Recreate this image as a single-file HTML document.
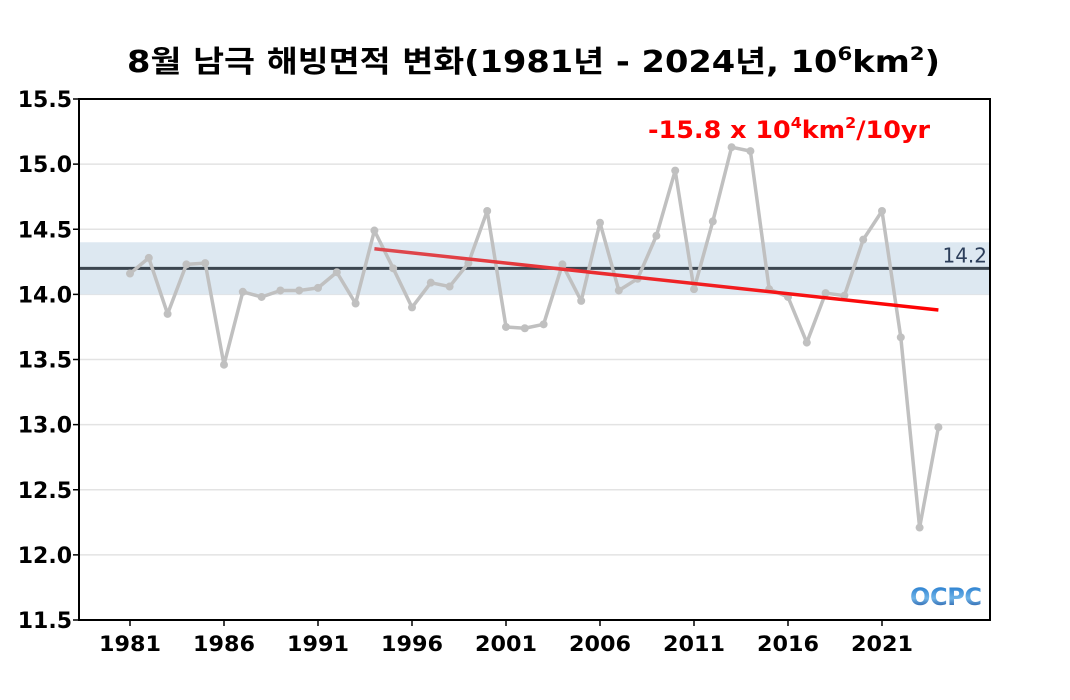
<!DOCTYPE html>
<html><head><meta charset="utf-8"><style>
html,body{margin:0;padding:0;background:#fff;}
svg{display:block;font-family:"DejaVu Sans","Noto Sans CJK KR",sans-serif;}
</style></head><body>
<svg id="chart" width="1070" height="700">
<text x="127" y="72" font-size="30" font-weight="bold" fill="#000" textLength="813" lengthAdjust="spacingAndGlyphs">8월 남극 해빙면적 변화(1981년 - 2024년, 10<tspan dy="-12" font-size="19">6</tspan><tspan dy="12">km</tspan><tspan dy="-12" font-size="19">2</tspan><tspan dy="12">)</tspan></text>
<g id="grid"></g>
<g id="band"></g>
<g id="series"></g>
<g id="axes"></g>
<text x="648" y="138" font-size="24" font-weight="bold" fill="#ff0000" textLength="282" lengthAdjust="spacingAndGlyphs">-15.8 x 10<tspan dy="-10" font-size="15">4</tspan><tspan dy="10">km</tspan><tspan dy="-10" font-size="15">2</tspan><tspan dy="10">/10yr</tspan></text>
<g>
<defs><linearGradient id="lg" x1="0" y1="0" x2="0" y2="1"><stop offset="0" stop-color="#1670c8"/><stop offset="0.55" stop-color="#6fb4e8"/><stop offset="1" stop-color="#0a3d8f"/></linearGradient></defs>
<text x="946" y="605" text-anchor="middle" font-size="24" font-weight="bold" fill="url(#lg)" textLength="72">OCPC</text>
</g>
</svg>
<script>
const years=[1981,1982,1983,1984,1985,1986,1987,1988,1989,1990,1991,1992,1993,1994,1995,1996,1997,1998,1999,2000,2001,2002,2003,2004,2005,2006,2007,2008,2009,2010,2011,2012,2013,2014,2015,2016,2017,2018,2019,2020,2021,2022,2023,2024];
const extent=[14.16,14.28,13.85,14.23,14.24,13.46,14.02,13.98,14.03,14.03,14.05,14.17,13.93,14.49,14.2,13.90,14.09,14.06,14.24,14.64,13.75,13.74,13.77,14.23,13.95,14.55,14.03,14.12,14.45,14.95,14.04,14.56,15.13,15.10,14.04,13.98,13.63,14.01,13.99,14.42,14.64,13.67,12.21,12.98];
const yTicks=[11.5,12.0,12.5,13.0,13.5,14.0,14.5,15.0,15.5];
const xTicks=[1981,1986,1991,1996,2001,2006,2011,2016,2021];
const meanValue=[14.2];
const bandRange=[14.0,14.4];
const trendYears=[1994,2024];
const trendValues=[14.35,13.88];

const L=79,R=990,T=99,B=620;
const xs=y=>130+(y-1981)*18.8;
const ys=v=>B-(v-11.5)/4*(B-T);
const NS='http://www.w3.org/2000/svg';
function mk(tag,attrs,parent){const e=document.createElementNS(NS,tag);for(const k in attrs)e.setAttribute(k,attrs[k]);parent.appendChild(e);return e;}
const grid=document.getElementById('grid'),band=document.getElementById('band'),series=document.getElementById('series'),axes=document.getElementById('axes');
yTicks.forEach(v=>{
 const g=mk('line',{x1:L,x2:R,y1:ys(v),y2:ys(v),stroke:'#e3e3e3','stroke-width':1.5},grid);
 
 
 const t=mk('line',{x1:L-6,x2:L,y1:ys(v),y2:ys(v),stroke:'#000','stroke-width':1.5},axes);
 
 
 const tx=mk('text',{x:L-7,y:ys(v)+8,'text-anchor':'end','font-size':22,'font-weight':'bold'},axes);
 tx.textContent=v.toFixed(1);
 
 
});
xTicks.forEach(y=>{
 const t=mk('line',{x1:xs(y),x2:xs(y),y1:B,y2:B+6,stroke:'#000','stroke-width':1.5},axes);
 
 
 const tx=mk('text',{x:xs(y),y:B+31,'text-anchor':'middle','font-size':21,'font-weight':'bold',textLength:62,lengthAdjust:'spacingAndGlyphs'},axes);
 tx.textContent=y;
 
 
});
const bd=mk('rect',{x:L,y:ys(bandRange[1]),width:R-L,height:ys(bandRange[0])-ys(bandRange[1]),fill:'#dde8f1'},band);


const ml=mk('line',{x1:L,x2:R,y1:ys(meanValue[0]),y2:ys(meanValue[0]),stroke:'#3c4650','stroke-width':3},band);


const mt=mk('text',{x:R-3,y:ys(meanValue[0])-6,'text-anchor':'end','font-size':20,fill:'#2c3e5a'},band);
mt.textContent=meanValue[0].toFixed(1);


const pts=years.map((y,i)=>xs(y)+','+ys(extent[i])).join(' ');
const pl=mk('polyline',{points:pts,fill:'none',stroke:'#c0c0c0','stroke-width':3.5,'stroke-linejoin':'round'},series);


years.forEach((y,i)=>{
 const c=mk('circle',{cx:xs(y),cy:ys(extent[i]),r:4,fill:'#c0c0c0'},series);
 
 
});
const defs=mk('defs',{},series);
const gr=mk('linearGradient',{id:'tg',x1:0,x2:1,y1:0,y2:0},defs);
mk('stop',{offset:0,'stop-color':'#dc4a50'},gr);mk('stop',{offset:1,'stop-color':'#ff0000'},gr);
const tl=mk('line',{x1:xs(trendYears[0]),y1:ys(trendValues[0]),x2:xs(trendYears[1]),y2:ys(trendValues[1]),stroke:'url(#tg)','stroke-width':3.5},series);


const fr=mk('rect',{x:L,y:T,width:R-L,height:B-T,fill:'none',stroke:'#000','stroke-width':2},axes);


</script>
</body></html>
